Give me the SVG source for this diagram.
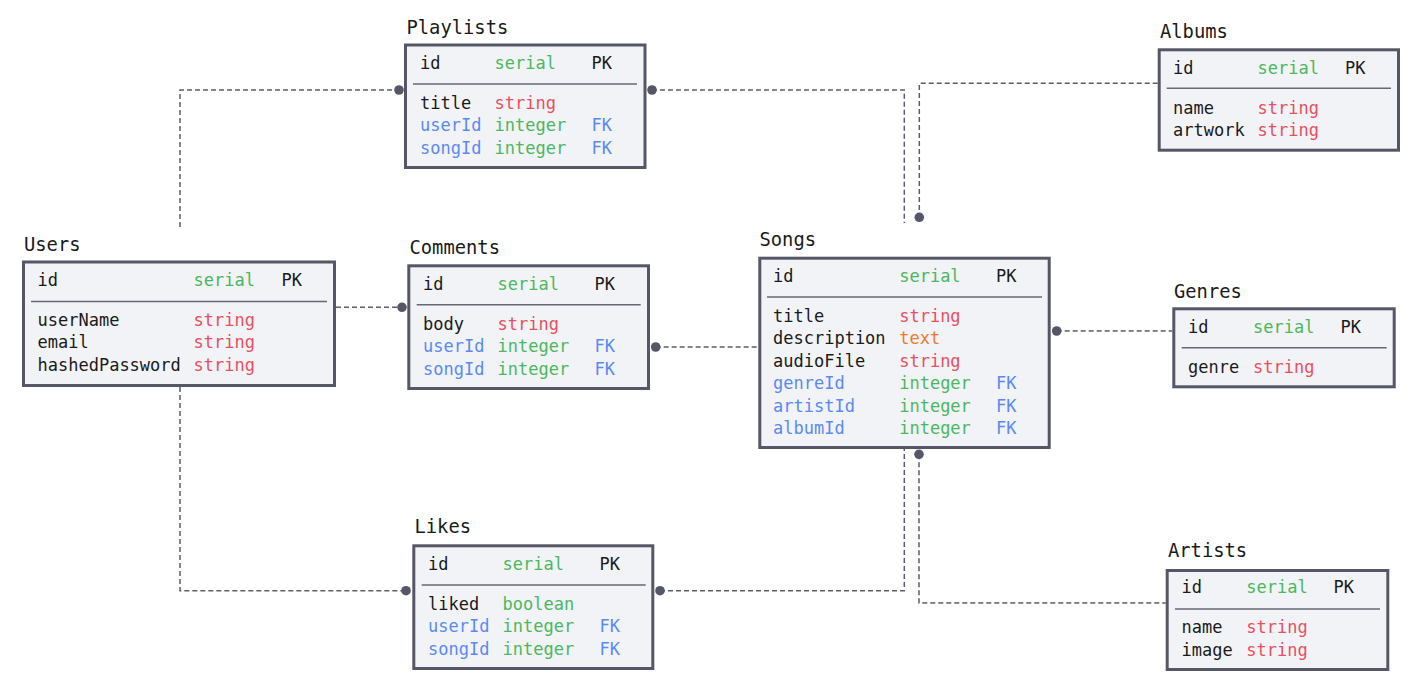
<svg xmlns="http://www.w3.org/2000/svg" width="1415" height="687" viewBox="0 0 1415 687">
<style>
text{font-family:"DejaVu Sans Mono","Liberation Mono",monospace;font-size:17px;fill:#1a1a1a}
.t{font-size:18.8px}
.g{fill:#4cb85e}
.r{fill:#e8505f}
.b{fill:#5b8af2}
.o{fill:#f07a2a}
.box{fill:#f2f3f7;stroke:#565766;stroke-width:3}
.sep{stroke:#666775;stroke-width:1.6}
.ln{fill:none;stroke:#5c5d6b;stroke-width:1.5;stroke-dasharray:5 3}
.dot{fill:#565766}
</style>
<rect width="1415" height="687" fill="#ffffff"/>
<g id="connectors">
<path class="ln" d="M180,227 V90 H399"/>
<path class="ln" d="M336,307.3 H402"/>
<path class="ln" d="M180,387 V590.7 H406"/>
<path class="ln" d="M652,90 H904.3 V223"/>
<path class="ln" d="M1157.7,83.3 H919.3 V217.3"/>
<path class="ln" d="M655.7,347 H758.3"/>
<path class="ln" d="M1056.7,331 H1172.3"/>
<path class="ln" d="M660,590.7 H904.3 V449"/>
<path class="ln" d="M919,454.3 V603 H1165.7"/>
<circle class="dot" cx="399" cy="90" r="4.8"/>
<circle class="dot" cx="402" cy="307.3" r="4.8"/>
<circle class="dot" cx="406" cy="590.7" r="4.8"/>
<circle class="dot" cx="652" cy="90" r="4.8"/>
<circle class="dot" cx="919.3" cy="217.3" r="4.8"/>
<circle class="dot" cx="655.7" cy="347" r="4.8"/>
<circle class="dot" cx="1056.7" cy="331" r="4.8"/>
<circle class="dot" cx="660" cy="590.7" r="4.8"/>
<circle class="dot" cx="919" cy="454.3" r="4.8"/>
</g>
<g id="users">
<text class="t" x="24" y="251">Users</text>
<rect class="box" x="23.5" y="262" width="311" height="123.5"/>
<line class="sep" x1="31" y1="301.5" x2="327" y2="301.5"/>
<text x="37.5" y="286">id</text><text class="g" x="193.5" y="286">serial</text><text x="281.5" y="286">PK</text>
<text x="37.5" y="326">userName</text><text class="r" x="193.5" y="326">string</text>
<text x="37.5" y="348.4">email</text><text class="r" x="193.5" y="348.4">string</text>
<text x="37.5" y="370.8">hashedPassword</text><text class="r" x="193.5" y="370.8">string</text>
</g>
<g id="playlists">
<text class="t" x="406.5" y="34">Playlists</text>
<rect class="box" x="405.5" y="45" width="239.5" height="122.5"/>
<line class="sep" x1="413" y1="84" x2="637" y2="84"/>
<text x="420" y="69">id</text><text class="g" x="494.5" y="69">serial</text><text x="591.5" y="69">PK</text>
<text x="420" y="109">title</text><text class="r" x="494.5" y="109">string</text>
<text class="b" x="420" y="131.4">userId</text><text class="g" x="494.5" y="131.4">integer</text><text class="b" x="591.5" y="131.4">FK</text>
<text class="b" x="420" y="153.8">songId</text><text class="g" x="494.5" y="153.8">integer</text><text class="b" x="591.5" y="153.8">FK</text>
</g>
<g id="comments">
<text class="t" x="409.5" y="254">Comments</text>
<rect class="box" x="408.8" y="265.8" width="239.7" height="122.7"/>
<line class="sep" x1="416.7" y1="304.7" x2="640.7" y2="304.7"/>
<text x="423" y="290">id</text><text class="g" x="497.5" y="290">serial</text><text x="594.5" y="290">PK</text>
<text x="423" y="330">body</text><text class="r" x="497.5" y="330">string</text>
<text class="b" x="423" y="352.4">userId</text><text class="g" x="497.5" y="352.4">integer</text><text class="b" x="594.5" y="352.4">FK</text>
<text class="b" x="423" y="374.8">songId</text><text class="g" x="497.5" y="374.8">integer</text><text class="b" x="594.5" y="374.8">FK</text>
</g>
<g id="songs">
<text class="t" x="759.5" y="246">Songs</text>
<rect class="box" x="759.8" y="258.2" width="289.4" height="189.3"/>
<line class="sep" x1="767" y1="297" x2="1042" y2="297"/>
<text x="773" y="282">id</text><text class="g" x="899.2" y="282">serial</text><text x="996" y="282">PK</text>
<text x="773" y="322">title</text><text class="r" x="899.2" y="322">string</text>
<text x="773" y="344.4">description</text><text class="o" x="899.2" y="344.4">text</text>
<text x="773" y="366.8">audioFile</text><text class="r" x="899.2" y="366.8">string</text>
<text class="b" x="773" y="389.2">genreId</text><text class="g" x="899.2" y="389.2">integer</text><text class="b" x="996" y="389.2">FK</text>
<text class="b" x="773" y="411.6">artistId</text><text class="g" x="899.2" y="411.6">integer</text><text class="b" x="996" y="411.6">FK</text>
<text class="b" x="773" y="434">albumId</text><text class="g" x="899.2" y="434">integer</text><text class="b" x="996" y="434">FK</text>
</g>
<g id="albums">
<text class="t" x="1160" y="37.7">Albums</text>
<rect class="box" x="1159.2" y="49.8" width="239.3" height="100.4"/>
<line class="sep" x1="1166.7" y1="88.3" x2="1391" y2="88.3"/>
<text x="1173" y="74">id</text><text class="g" x="1257.5" y="74">serial</text><text x="1345" y="74">PK</text>
<text x="1173" y="114">name</text><text class="r" x="1257.5" y="114">string</text>
<text x="1173" y="136.4">artwork</text><text class="r" x="1257.5" y="136.4">string</text>
</g>
<g id="genres">
<text class="t" x="1174" y="297.7">Genres</text>
<rect class="box" x="1173.8" y="308.8" width="220.4" height="78"/>
<line class="sep" x1="1181.7" y1="347.7" x2="1386.7" y2="347.7"/>
<text x="1188" y="332.7">id</text><text class="g" x="1253" y="332.7">serial</text><text x="1340.6" y="332.7">PK</text>
<text x="1188" y="372.7">genre</text><text class="r" x="1253" y="372.7">string</text>
</g>
<g id="likes">
<text class="t" x="414.5" y="533.3">Likes</text>
<rect class="box" x="413.8" y="545.8" width="239" height="122.7"/>
<line class="sep" x1="421.7" y1="585" x2="645.7" y2="585"/>
<text x="428" y="570">id</text><text class="g" x="502.5" y="570">serial</text><text x="599.5" y="570">PK</text>
<text x="428" y="610">liked</text><text class="g" x="502.5" y="610">boolean</text>
<text class="b" x="428" y="632.4">userId</text><text class="g" x="502.5" y="632.4">integer</text><text class="b" x="599.5" y="632.4">FK</text>
<text class="b" x="428" y="654.8">songId</text><text class="g" x="502.5" y="654.8">integer</text><text class="b" x="599.5" y="654.8">FK</text>
</g>
<g id="artists">
<text class="t" x="1168" y="557.3">Artists</text>
<rect class="box" x="1167.2" y="570.5" width="220.6" height="99"/>
<line class="sep" x1="1175" y1="609" x2="1380" y2="609"/>
<text x="1181.5" y="593.3">id</text><text class="g" x="1246.3" y="593.3">serial</text><text x="1333.5" y="593.3">PK</text>
<text x="1181.5" y="633.3">name</text><text class="r" x="1246.3" y="633.3">string</text>
<text x="1181.5" y="655.7">image</text><text class="r" x="1246.3" y="655.7">string</text>
</g>
</svg>
